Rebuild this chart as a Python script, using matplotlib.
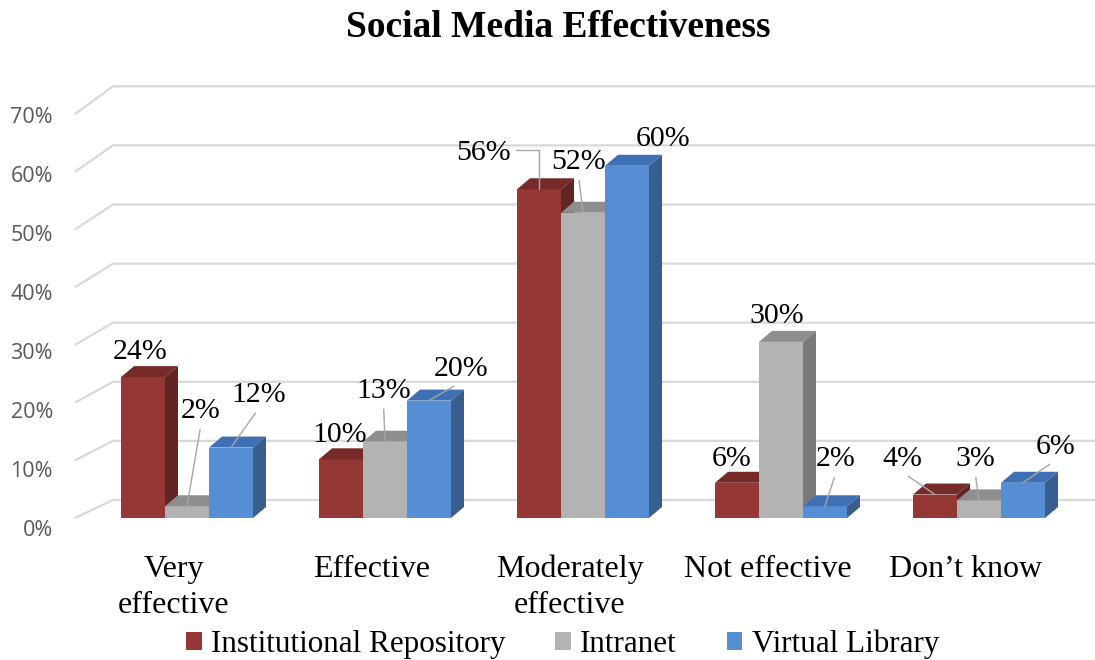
import matplotlib
matplotlib.use("Agg")
import matplotlib.pyplot as plt
from matplotlib.patches import Polygon, Patch

# ---- data -------------------------------------------------------------
categories = ["Very\neffective", "Effective", "Moderately\neffective",
              "Not effective", "Don\u2019t know"]
series_names = ["Institutional Repository", "Intranet", "Virtual Library"]
repository = [24, 10, 56, 6, 4]
intranet = [2, 13, 52, 30, 3]
virtual_library = [12, 20, 60, 2, 6]
tick_values = [0, 10, 20, 30, 40, 50, 60, 70]
title = "Social Media Effectiveness"

# ---- styling ----------------------------------------------------------
# (front, top, side) face colours for each series
face_colors = [
    ("#953735", "#772b29", "#632523"),
    ("#b3b3b3", "#8e8e8e", "#7a7a7a"),
    ("#558ed5", "#3f70b3", "#375e8f"),
]
# label offsets (pixels, from the front-top centre of each bar) and
# whether a leader line is drawn
label_offsets = [
    [(-3, -28), (-1, -27), (-56, -39), (-5, -27), (-33, -38.5)],
    [(14, -98), (-1.5, -54), (-4.5, -54), (-4, -29), (-4, -44.5)],
    [(28, -55.6), (32, -34.6), (36, -30), (11, -50), (33, -39)],
]
leaders = [
    [False, False, True, False, True],
    [True, True, True, False, True],
    [True, True, False, True, True],
]

W, H = 1095, 660
PX_CAT = 198.0     # pixels per category step
PX_PCT = 5.87      # pixels per percentage point
X0_PX, Y0_PX = 187.0, 518.0   # first group centre / baseline (pixels)

BAR_W = 44.0 / PX_CAT
DEPTH_X = 13.0 / PX_CAT
DEPTH_Y = 11.0 / PX_PCT

serif = ["Liberation Serif", "DejaVu Serif"]

fig = plt.figure(figsize=(W / 100, H / 100), dpi=100)
ax = fig.add_axes([0, 0, 1, 1])
ax.set_xlim(-X0_PX / PX_CAT, (W - X0_PX) / PX_CAT)
ax.set_ylim(-(H - Y0_PX) / PX_PCT, Y0_PX / PX_PCT)
ax.axis("off")

# ---- walls: gridlines on the side wall and back wall -----------------
side_front_x = (75 - X0_PX) / PX_CAT
back_x = (113 - X0_PX) / PX_CAT
right_x = (W + 5 - X0_PX) / PX_CAT
for v in tick_values:
    y_front = v * 5.77 / PX_PCT
    y_back = (Y0_PX - 500) / PX_PCT + v * 5.91 / PX_PCT
    ax.plot([side_front_x, back_x, right_x], [y_front, y_back, y_back],
            color="#d9d9d9", lw=1.6, solid_capstyle="butt", zorder=1)
    ax.text((53 - X0_PX) / PX_CAT, -1.7 - 7.8 / PX_PCT + v * 5.9 / PX_PCT,
            f"{v}%", ha="right", va="baseline", fontsize=15.5,
            family="Open Sans", color="#595959")

# ---- 3D-style columns ----------------------------------------------
all_series = [repository, intranet, virtual_library]
x_idx = list(range(len(categories)))
for s, values in enumerate(all_series):
    front, top, side = face_colors[s]
    z = 3 + 3 * s
    centers = [i + (s - 1) * BAR_W for i in x_idx]
    ax.bar(centers, values, width=BAR_W, color=front, linewidth=0, zorder=z)
    for c, v in zip(centers, values):
        x0, x1 = c - BAR_W / 2, c + BAR_W / 2
        ax.add_patch(Polygon([(x0, v), (x1, v), (x1 + DEPTH_X, v + DEPTH_Y),
                              (x0 + DEPTH_X, v + DEPTH_Y)],
                             closed=True, facecolor=top, edgecolor="none",
                             zorder=z + 0.1))
        ax.add_patch(Polygon([(x1, 0), (x1, v), (x1 + DEPTH_X, v + DEPTH_Y),
                              (x1 + DEPTH_X, DEPTH_Y)],
                             closed=True, facecolor=side, edgecolor="none",
                             zorder=z + 0.2))

    # value labels
    for i, (c, v) in enumerate(zip(centers, values)):
        ox, oy = label_offsets[s][i]
        kw = {}
        if leaders[s][i]:
            style = "arc3"
            relpos = (0.5, 0.0)
            if oy > -45 and ox < -40:
                style = "angle,angleA=0,angleB=90,rad=0"
                relpos = (1.0, 0.62)
            kw["arrowprops"] = dict(arrowstyle="-", color="#a6a6a6", lw=1.0,
                                    shrinkA=2, shrinkB=0, relpos=relpos,
                                    connectionstyle=style)
        ax.annotate(f"{v}%", xy=(c, v), xytext=(ox * 0.72, -(oy + 10) * 0.72),
                    textcoords="offset points", ha="center", va="baseline",
                    fontsize=21.5, family=serif, color="black", zorder=20, **kw)

# ---- category labels --------------------------------------------------
for i, name in enumerate(categories):
    ax.text(i - 13 / PX_CAT, -(555 - Y0_PX) / PX_PCT, name, ha="center",
            va="top", fontsize=23, family=serif, linespacing=1.3,
            color="black")

# ---- title ------------------------------------------------------------
fig.text(558.5 / W, 1 - 37 / H, title, ha="center", va="baseline",
         fontsize=27, fontweight="bold", family=serif)

# ---- legend -----------------------------------------------------------
handles = [Patch(facecolor=face_colors[s][0], edgecolor="none")
           for s in range(len(series_names))]
fig.legend(handles, series_names, loc="center",
           bbox_to_anchor=(562.5 / W, 1 - 644 / H), ncol=3, frameon=False,
           prop={"family": serif, "size": 22.4}, handlelength=0.5,
           handleheight=0.5, handletextpad=0.3, columnspacing=1.6,
           borderpad=0.0)

fig.savefig("out.png", dpi=100)
